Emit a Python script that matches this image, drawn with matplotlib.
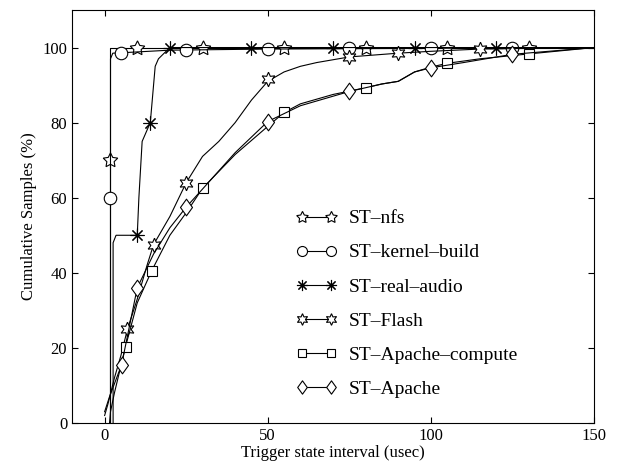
import matplotlib
matplotlib.use("Agg")
import matplotlib.pyplot as plt
from matplotlib.path import Path

plt.rcParams['font.family'] = ['Liberation Serif', 'DejaVu Serif']

# curve points (x in usec, y in %)
nfs_x = [1.8, 1.8, 150]
nfs_y = [0, 100, 100]
nfs_mx = [1.8, 10, 30, 55, 80, 105, 130]
nfs_my = [70, 100, 100, 100, 100, 100, 100]

kernel_x = [1.8, 1.8, 2.5, 5, 20, 50, 100, 150]
kernel_y = [0, 97, 98.5, 98.6, 99.3, 99.6, 99.8, 100]
kernel_mx = [1.8, 5, 25, 50, 75, 100, 125]
kernel_my = [60, 98.6, 99.3, 99.6, 99.8, 99.8, 100]

audio_x = [2.6, 2.6, 3.5, 10, 10.5, 11.5, 14, 15.5, 16.5, 20, 150]
audio_y = [0, 48, 50, 50, 60, 75, 80, 95, 97, 100, 100]
audio_mx = [10, 14, 20, 45, 70, 95, 120]
audio_my = [50, 80, 100, 100, 100, 100, 100]

flash_x = [0, 1, 3, 5, 7, 10, 13, 15, 18, 20, 25, 30, 35, 40, 45, 50, 55, 60, 65,
           75, 90, 100, 115, 150]
flash_y = [2, 5, 12, 18, 25, 33, 42, 47.5, 52, 55, 64, 71, 75, 80, 86, 91, 93.5, 95,
           96, 97.5, 98.5, 99, 99.6, 100]
flash_mx = [7, 15, 25, 50, 75, 90, 115]
flash_my = [25, 47.5, 64, 91.5, 97.6, 98.5, 99.7]

compute_x = [1.5, 1.8, 3, 6.4, 10, 14.4, 20, 25, 30, 40, 50, 55, 60, 70, 80, 85, 90,
             95, 100, 105, 115, 130, 150]
compute_y = [0, 3, 8, 20.3, 32, 40.5, 50, 56, 62.5, 71.5, 79, 82.7, 85, 87.5, 89.3,
             90.3, 91, 93.5, 94.8, 95.8, 97, 98.3, 100]
compute_mx = [6.4, 14.4, 30, 55, 80, 105, 130]
compute_my = [20.3, 40.5, 62.5, 82.7, 89.3, 95.8, 98.3]

apache_x = [0, 1.5, 5.2, 10, 15, 20, 25, 30, 40, 50, 60, 75, 85, 90, 95, 100, 110,
            125, 150]
apache_y = [3, 7, 15.5, 36, 45, 52, 57.5, 62.3, 72, 80.3, 84.5, 88.3, 90.3, 91, 93.5,
            94.6, 96, 98.2, 100]
apache_mx = [5.2, 10, 25, 50, 75, 100, 125]
apache_my = [15.5, 36, 57.5, 80.3, 88.3, 94.6, 98.2]

labels = ['ST\u2013nfs', 'ST\u2013kernel\u2013build', 'ST\u2013real\u2013audio',
          'ST\u2013Flash', 'ST\u2013Apache\u2013compute', 'ST\u2013Apache']

# matlab-like diamond (a bit taller than wide)
diamond = Path([(0, 1), (0.72, 0), (0, -1), (-0.72, 0), (0, 1)],
               [Path.MOVETO, Path.LINETO, Path.LINETO, Path.LINETO, Path.CLOSEPOLY])
markers = [(5, 1, 0), 'o', (8, 2, 0), (6, 1, 0), 's', diamond]
sizes = [11, 9, 10, 10.5, 7.5, 12]

series = [(nfs_x, nfs_y, nfs_mx, nfs_my),
          (kernel_x, kernel_y, kernel_mx, kernel_my),
          (audio_x, audio_y, audio_mx, audio_my),
          (flash_x, flash_y, flash_mx, flash_my),
          (compute_x, compute_y, compute_mx, compute_my),
          (apache_x, apache_y, apache_mx, apache_my)]

fig = plt.figure(figsize=(6.19, 4.73), dpi=100)
ax = fig.add_axes([72 / 619, 1 - 423 / 473, 522 / 619, 413 / 473])

for (cx, cy, mx, my), lab, mk, ms in zip(series, labels, markers, sizes):
    ax.plot(cx, cy, color='k', lw=0.8)
    ax.plot(mx, my, ls='none', marker=mk, ms=ms, mfc='white', mec='k', mew=0.8)
    ax.plot([], [], color='k', lw=0.8, marker=mk, ms=ms, mfc='white', mec='k',
            mew=0.8, label=lab)

ax.set_xlim(-10, 150)
ax.set_ylim(0, 110)
ax.set_xticks([0, 50, 100, 150])
ax.set_yticks([0, 20, 40, 60, 80, 100])
ax.tick_params(direction='in', top=True, right=True, labelsize=12, length=4)
for s in ax.spines.values():
    s.set_linewidth(0.8)

ax.set_xlabel('Trigger state interval (usec)', fontsize=12, labelpad=1)
ax.set_ylabel('Cumulative Samples (%)', fontsize=12, labelpad=4)

ax.legend(loc='upper left', bbox_to_anchor=(0.41, 0.54), frameon=False,
          fontsize=14, numpoints=2, handlelength=2.1, handletextpad=0.65,
          labelspacing=0.85, borderpad=0, markerscale=0.8)

fig.savefig('out.png', dpi=100)
